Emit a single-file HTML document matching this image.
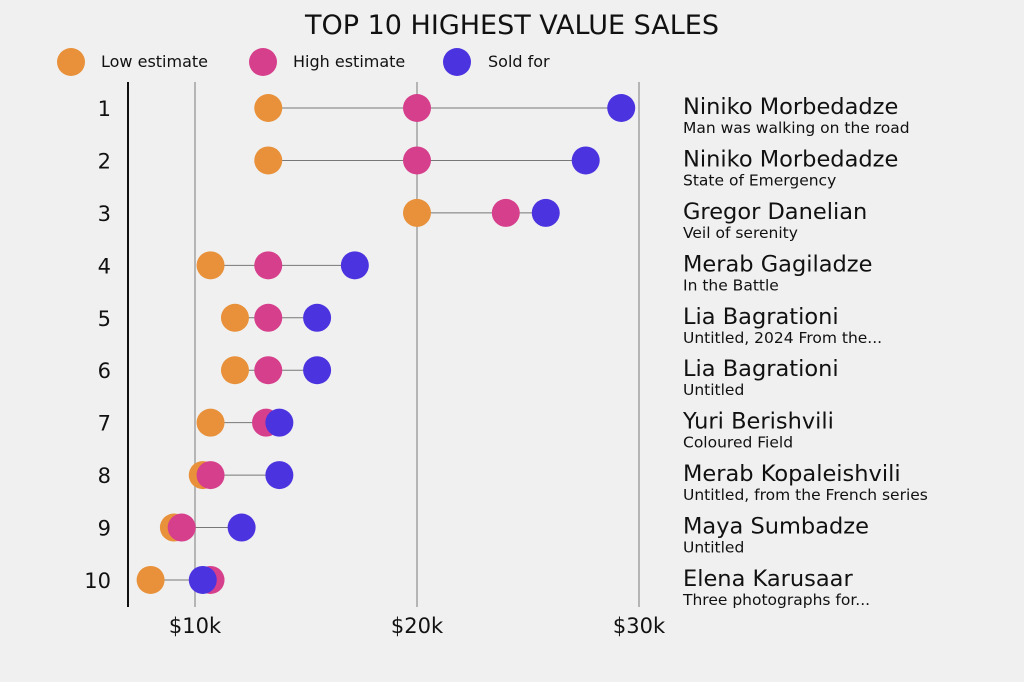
<!DOCTYPE html>
<html><head><meta charset="utf-8">
<style>
html,body{margin:0;padding:0;background:#f0f0f0;}
svg{display:block;font-family:"DejaVu Sans","Liberation Sans",sans-serif;}
</style></head>
<body>
<svg id="chart" width="1024" height="682" viewBox="0 0 1024 682" xmlns="http://www.w3.org/2000/svg">
<rect width="1024" height="682" fill="#f0f0f0"/>
<text x="512" y="34" text-anchor="middle" font-size="27" fill="#111">TOP 10 HIGHEST VALUE SALES</text>
<g>
<circle cx="71" cy="62" r="14" fill="#E8913A"/>
<text x="101" y="67" font-size="16" fill="#111">Low estimate</text>
<circle cx="263" cy="62" r="14" fill="#D63F8C"/>
<text x="293" y="67" font-size="16" fill="#111">High estimate</text>
<circle cx="457" cy="62" r="14" fill="#4B33E0"/>
<text x="488" y="67" font-size="16" fill="#111">Sold for</text>
</g>
<g id="grid"></g>
<line x1="128" y1="82" x2="128" y2="607" stroke="#111" stroke-width="2"/>
<g id="marks"></g>
</svg>
<script>
const ranks = [1,2,3,4,5,6,7,8,9,10];
const artists = ["Niniko Morbedadze","Niniko Morbedadze","Gregor Danelian","Merab Gagiladze","Lia Bagrationi","Lia Bagrationi","Yuri Berishvili","Merab Kopaleishvili","Maya Sumbadze","Elena Karusaar"];
const titles = ["Man was walking on the road","State of Emergency","Veil of serenity","In the Battle","Untitled, 2024 From the...","Untitled","Coloured Field","Untitled, from the French series","Untitled","Three photographs for..."];
const lowEst = [13.3,13.3,20,10.7,11.8,11.8,10.7,10.35,9.05,8.0];
const highEst = [20,20,24,13.3,13.3,13.3,13.2,10.7,9.4,10.7];
const soldFor = [29.2,27.6,25.8,17.2,15.5,15.5,13.8,13.8,12.1,10.35];
const xTicks = [10,20,30];
const xTickLabels = ["$10k","$20k","$30k"];

const NS="http://www.w3.org/2000/svg";
function x(v){return 195+(v-10)*22.2;}
function y(i){return 108+i*52.44;}
function mk(tag,attrs,parent,txt){const e=document.createElementNS(NS,tag);for(const k in attrs)e.setAttribute(k,attrs[k]);if(txt!==undefined)e.textContent=txt;parent.appendChild(e);return e;}
const grid=document.getElementById('grid'), marks=document.getElementById('marks');
xTicks.forEach((t,i)=>{
  const l=mk('line',{x1:x(t),x2:x(t),y1:82,y2:607,stroke:'#b5b5b5','stroke-width':2},grid);
  
  
  const tx=mk('text',{x:x(t),y:633,'text-anchor':'middle','font-size':21,fill:'#111'},grid,xTickLabels[i]);
  
  
});
ranks.forEach((r,i)=>{
  const cy=y(i);
  const rl=mk('text',{x:111,y:cy+8,'text-anchor':'end','font-size':21,fill:'#111'},marks,String(r));
  
  
  const vals=[lowEst[i],highEst[i],soldFor[i]];
  const cn=mk('line',{x1:x(Math.min(...vals)),x2:x(Math.max(...vals)),y1:cy,y2:cy,stroke:'#777','stroke-width':1},marks);
  
  
  const a=mk('circle',{cx:x(lowEst[i]),cy:cy,r:14,fill:'#E8913A'},marks);
  
  
  const b=mk('circle',{cx:x(highEst[i]),cy:cy,r:14,fill:'#D63F8C'},marks);
  
  
  const c=mk('circle',{cx:x(soldFor[i]),cy:cy,r:14,fill:'#4B33E0'},marks);
  
  
  const n=mk('text',{x:683,y:cy+6,'font-size':22.5,fill:'#111'},marks,artists[i]);
  
  
  const s=mk('text',{x:683,y:cy+25,'font-size':15.5,fill:'#111'},marks,titles[i]);
  
  
});
</script>
</body></html>
